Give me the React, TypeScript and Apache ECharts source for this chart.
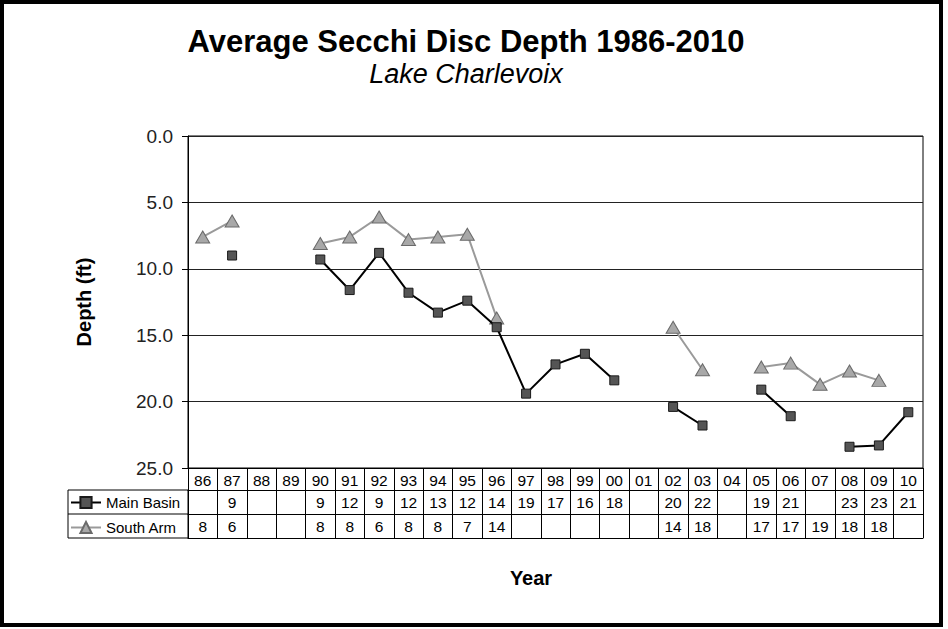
import React, { useEffect, useRef } from "react";
import * as echarts from "echarts";

const years = ["86","87","88","89","90","91","92","93","94","95","96","97","98","99","00","01","02","03","04","05","06","07","08","09","10"];
const mainBasin: (number | null)[] = [null, 9.0, null, null, 9.3, 11.6, 8.8, 11.8, 13.3, 12.4, 14.4, 19.4, 17.2, 16.4, 18.4, null, 20.4, 21.8, null, 19.1, 21.1, null, 23.4, 23.3, 20.8];
const southArm: (number | null)[] = [7.6, 6.4, null, null, 8.1, 7.6, 6.1, 7.8, 7.6, 7.4, 13.7, null, null, null, null, null, 14.4, 17.6, null, 17.4, 17.1, 18.7, 17.7, 18.4, null];
const yTicks = [0, 5, 10, 15, 20, 25];

const FONT = "Liberation Sans, Arial, sans-serif";

export default function App() {
  const ref = useRef<HTMLDivElement>(null);
  useEffect(() => {
    if (!ref.current) return;
    const chart = echarts.init(ref.current, undefined, { renderer: "svg" });
    const gridLeft = 188, gridRight = 25, gridTop = 136, gridBottom = 161;
    const rounded = (arr: (number | null)[]) => arr.map((v) => (v == null ? "" : String(Math.round(v))));
    const mainTxt = rounded(mainBasin);
    const southTxt = rounded(southArm);
    const labelBase = { fontFamily: FONT, fontSize: 15.5, color: "#000", interval: 0, margin: 4 };
    const lineStyle = { color: "#000", width: 1 };
    chart.setOption({
      animation: false,
      backgroundColor: "#fff",
      textStyle: { fontFamily: FONT },
      grid: { left: gridLeft, right: gridRight, top: gridTop, bottom: gridBottom, show: true, borderColor: "#000", borderWidth: 1 },
      legend: {
        orient: "vertical",
        left: 70,
        top: 495,
        itemWidth: 30,
        itemHeight: 14,
        itemGap: 10,
        padding: 0,
        textStyle: { fontFamily: FONT, fontSize: 15, color: "#000", lineHeight: 14 },
        data: ["Main Basin", "South Arm"],
      },
      xAxis: [
        {
          type: "category",
          data: years,
          position: "bottom",
          boundaryGap: true,
          axisLine: { show: true, onZero: false, lineStyle },
          axisTick: { show: true, inside: false, length: 70, interval: 0, lineStyle },
          axisLabel: { ...labelBase },
          splitLine: { show: false },
        },
        {
          type: "category",
          data: years,
          position: "bottom",
          offset: 22,
          axisLine: { show: true, onZero: false, lineStyle },
          axisTick: { show: false },
          axisLabel: { ...labelBase, formatter: (_v: string, i: number) => mainTxt[i] },
        },
        {
          type: "category",
          data: years,
          position: "bottom",
          offset: 46,
          axisLine: { show: true, onZero: false, lineStyle },
          axisTick: { show: false },
          axisLabel: { ...labelBase, formatter: (_v: string, i: number) => southTxt[i] },
        },
        {
          type: "category",
          data: years,
          position: "bottom",
          offset: 70,
          axisLine: { show: true, onZero: false, lineStyle },
          axisTick: { show: false },
          axisLabel: { show: false },
        },
      ],
      yAxis: {
        type: "value",
        inverse: true,
        min: yTicks[0],
        max: yTicks[yTicks.length - 1],
        interval: 5,
        name: "Depth (ft)",
        nameLocation: "middle",
        nameGap: 94,
        nameRotate: 90,
        nameTextStyle: { fontFamily: FONT, fontSize: 20, fontWeight: "bold", color: "#000" },
        axisLine: { show: true, onZero: false, lineStyle },
        axisTick: { show: true, length: 6, lineStyle: { color: "#000" } },
        axisLabel: { fontFamily: FONT, fontSize: 19, color: "#222", margin: 15, formatter: (v: number) => v.toFixed(1) },
        splitLine: { show: true, lineStyle: { color: "#222", width: 1 } },
      },
      series: [
        {
          name: "Main Basin",
          type: "line",
          data: mainBasin,
          connectNulls: false,
          symbol: "rect",
          symbolSize: 9,
          showSymbol: true,
          lineStyle: { color: "#000", width: 2 },
          itemStyle: { color: "#555", borderColor: "#1a1a1a", borderWidth: 1 },
          z: 3,
        },
        {
          name: "South Arm",
          type: "line",
          data: southArm,
          connectNulls: false,
          symbol: "triangle",
          symbolSize: [14, 12],
          showSymbol: true,
          lineStyle: { color: "#9a9a9a", width: 2 },
          itemStyle: { color: "#a8a8a8", borderColor: "#6a6a6a", borderWidth: 1 },
          z: 2,
        },
      ],
      graphic: [
        { type: "rect", shape: { x: 2, y: 2, width: 939, height: 623 }, style: { fill: "none", stroke: "#000", lineWidth: 4 }, silent: true },
        { type: "text", x: 466, y: 41, style: { text: "Average Secchi Disc Depth 1986-2010", fontFamily: FONT, fontSize: 31, fontWeight: "bold", fill: "#000", textAlign: "center", textVerticalAlign: "middle" } },
        { type: "text", x: 466, y: 74, style: { text: "Lake Charlevoix", fontFamily: FONT, fontSize: 27, fontStyle: "italic", fill: "#000", textAlign: "center", textVerticalAlign: "middle" } },
        { type: "text", x: 531, y: 578, style: { text: "Year", fontFamily: FONT, fontSize: 20, fontWeight: "bold", fill: "#000", textAlign: "center", textVerticalAlign: "middle" } },
        { type: "rect", shape: { x: 68, y: 490, width: 120, height: 48 }, style: { fill: "none", stroke: "#000", lineWidth: 1 }, silent: true },
        { type: "line", shape: { x1: 68, y1: 514, x2: 188, y2: 514 }, style: { stroke: "#000", lineWidth: 1 }, silent: true },
      ],
    });
    return () => chart.dispose();
  }, []);
  return <div ref={ref} style={{ position: "absolute", left: 0, top: 0, width: 948, height: 629 }} />;
}
